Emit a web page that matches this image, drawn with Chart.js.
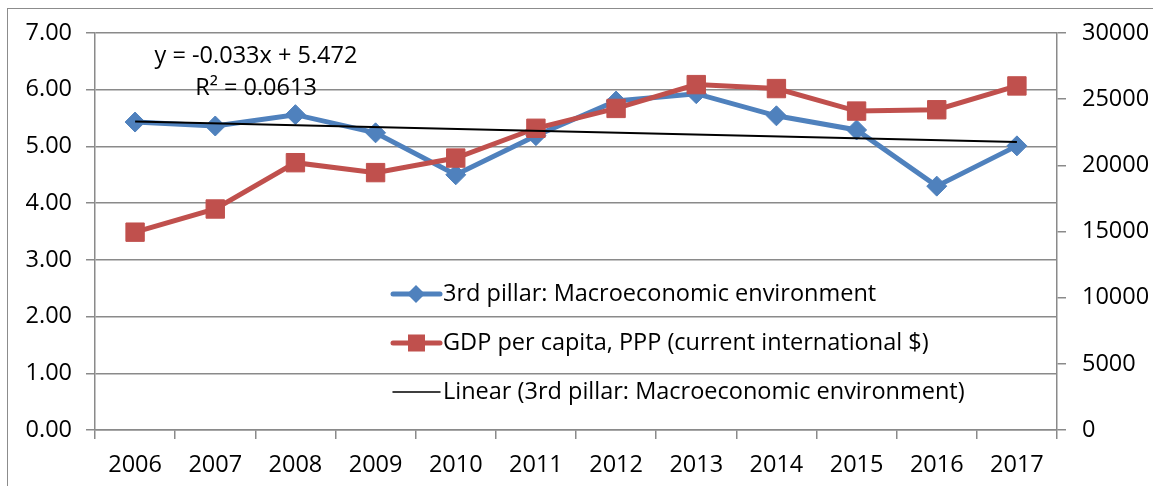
<!DOCTYPE html>
<html>
<head>
<meta charset="utf-8">
<script src="https://cdn.jsdelivr.net/npm/chart.js@4/dist/chart.umd.min.js"></script>
<style>
  html, body { margin: 0; padding: 0; background: #fff; }
  #wrap { position: relative; width: 1153px; height: 486px; }
  #frame { position: absolute; left: 7px; top: 8px; width: 1160px; height: 490px; border: 1.5px solid #8c8c8c; box-sizing: border-box; pointer-events: none; }
</style>
</head>
<body>
<div id="wrap">
  <canvas id="chart" width="1153" height="486"></canvas>
  <div id="frame"></div>
</div>
<script>
const years = ['2006', '2007', '2008', '2009', '2010', '2011', '2012', '2013', '2014', '2015', '2016', '2017'];
const pillar = [5.43, 5.36, 5.56, 5.24, 4.50, 5.19, 5.80, 5.93, 5.54, 5.29, 4.30, 5.01];
const gdp = [14950, 16700, 20200, 19450, 20550, 22800, 24300, 26100, 25800, 24100, 24200, 26000];
const trend = [5.44, null, null, null, null, null, null, null, null, null, null, 5.08];
const trendLabel = ['y = -0.033x + 5.472', 'R² = 0.0613'];

const blue = '#4f81bd';
const red = '#c0504d';
const grid = '#8a8a8a';
const font = '"Open Sans", Lato, sans-serif';
const fsize = 23.5;

const legendItems = [
  { text: '3rd pillar: Macroeconomic environment', color: blue, width: 5, marker: 'diamond' },
  { text: 'GDP per capita, PPP (current international $)', color: red, width: 5, marker: 'square' },
  { text: 'Linear (3rd pillar: Macroeconomic environment)', color: '#000', width: 1.5, marker: null },
];

const overlay = {
  id: 'overlay',
  afterDraw(chart) {
    const ctx = chart.ctx;
    ctx.save();
    ctx.font = fsize + 'px ' + font;
    ctx.fillStyle = '#000';
    ctx.textBaseline = 'middle';
    ctx.textAlign = 'center';
    ctx.fillText(trendLabel[0], 256, 56);
    ctx.fillText(trendLabel[1], 256, 88);

    ctx.textAlign = 'left';
    legendItems.forEach((it, i) => {
      const y = 294 + i * 49;
      ctx.strokeStyle = it.color;
      ctx.lineWidth = it.width;
      ctx.lineCap = 'round';
      ctx.beginPath();
      ctx.moveTo(393, y);
      ctx.lineTo(440, y);
      ctx.stroke();
      ctx.fillStyle = it.color;
      if (it.marker === 'diamond') {
        ctx.beginPath();
        ctx.moveTo(416, y - 9);
        ctx.lineTo(425, y);
        ctx.lineTo(416, y + 9);
        ctx.lineTo(407, y);
        ctx.closePath();
        ctx.fill();
      } else if (it.marker === 'square') {
        ctx.fillRect(408, y - 8.5, 17, 17);
      }
      ctx.fillStyle = '#000';
      ctx.fillText(it.text, 443, y);
    });
    ctx.restore();
  }
};

new Chart(document.getElementById('chart'), {
  type: 'line',
  data: {
    labels: years,
    datasets: [
      {
        label: 'Linear (3rd pillar: Macroeconomic environment)',
        data: trend,
        yAxisID: 'y',
        borderColor: '#000',
        borderWidth: 2,
        pointRadius: 0,
        spanGaps: true,
        order: 0,
      },
      {
        label: '3rd pillar: Macroeconomic environment',
        data: pillar,
        yAxisID: 'y',
        borderColor: blue,
        backgroundColor: blue,
        borderWidth: 5,
        pointStyle: 'rectRot',
        pointRadius: 10,
        pointBorderWidth: 1,
        order: 2,
      },
      {
        label: 'GDP per capita, PPP (current international $)',
        data: gdp,
        yAxisID: 'y1',
        borderColor: red,
        backgroundColor: red,
        borderWidth: 5,
        pointStyle: 'rect',
        pointRadius: 13,
        pointBorderWidth: 1,
        order: 1,
      },
    ],
  },
  options: {
    responsive: false,
    animation: false,
    events: [],
    layout: { padding: { top: 33, left: 0, right: 0, bottom: 0 } },
    plugins: { legend: { display: false }, tooltip: { enabled: false } },
    scales: {
      x: {
        offset: true,
        grid: { offset: true, drawOnChartArea: false, color: grid, tickLength: 9, lineWidth: 1.5 },
        border: { color: grid, width: 1.5 },
        ticks: { color: '#000', font: { family: font, size: fsize }, padding: 12, maxRotation: 0 },
        afterFit(s) { s.height = 56; },
      },
      y: {
        position: 'left',
        min: 0, max: 7,
        ticks: { stepSize: 1, color: '#000', font: { family: font, size: fsize }, padding: 14,
          callback: v => v.toFixed(2) },
        grid: { color: grid, lineWidth: 1.5, tickLength: 9 },
        border: { color: grid, width: 1.5 },
        afterFit(s) { s.width = 95; },
      },
      y1: {
        position: 'right',
        min: 0, max: 30000,
        ticks: { stepSize: 5000, color: '#000', font: { family: font, size: fsize }, padding: 16,
          callback: v => String(v) },
        grid: { drawOnChartArea: false, color: grid, lineWidth: 1.5, tickLength: 9 },
        border: { color: grid, width: 1.5 },
        afterFit(s) { s.width = 96; },
      },
    },
  },
  plugins: [overlay],
});
</script>
</body>
</html>
